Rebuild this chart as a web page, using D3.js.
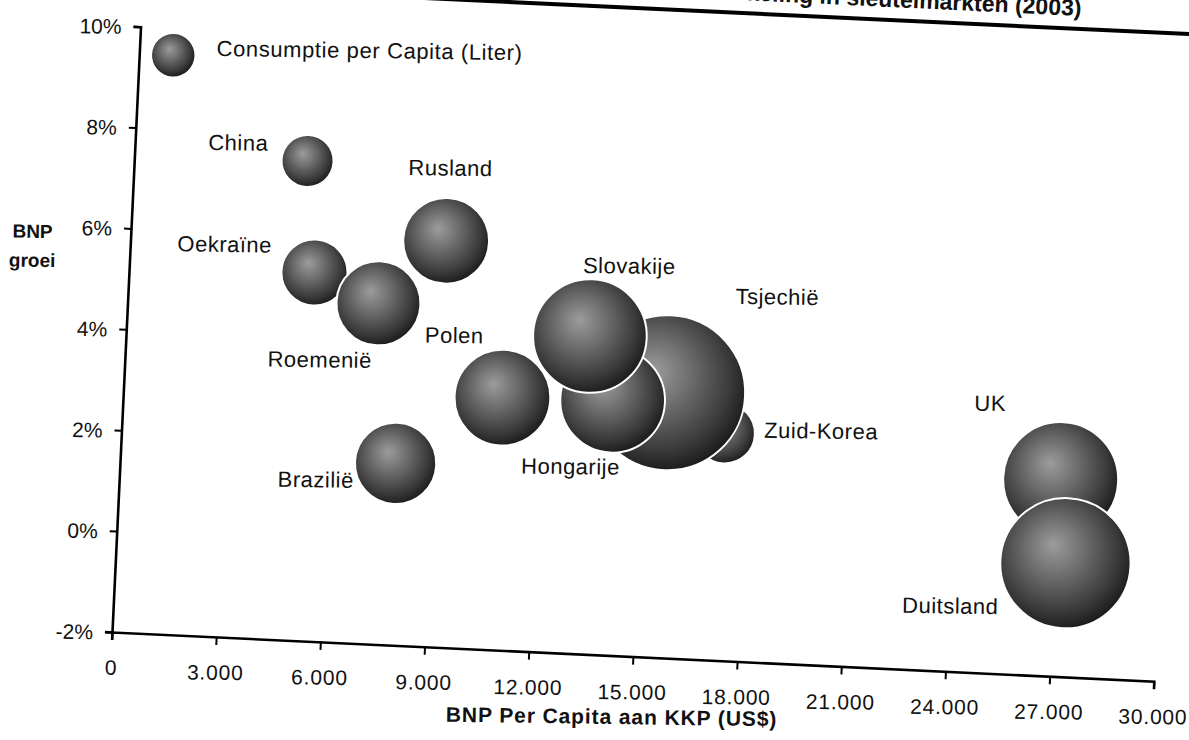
<!DOCTYPE html>
<html>
<head>
<meta charset="utf-8">
<script src="https://cdn.jsdelivr.net/npm/d3@7"></script>
<style>
  body { margin: 0; background: #fff; }
  svg { display: block; font-family: "Liberation Sans", Arial, sans-serif; }
</style>
</head>
<body>
<svg id="chart" width="1189" height="740"></svg>
<script>
// data
const countries   = ["Oekraïne", "Roemenië", "China", "Rusland", "Polen", "Brazilië",
                     "Zuid-Korea", "Tsjechië", "Hongarije", "Slovakije", "UK", "Duitsland"];
const gdpPerCapita = [5330, 7210, 4980, 9070, 10900, 7920, 17340, 15640, 14070, 13330, 27050, 27300];
const gdpGrowth    = [5.3, 4.75, 7.5, 6.05, 3.0, 1.6, 2.5, 3.25, 3.05, 4.3, 1.9, 0.25];
const consumption  = [29, 47, 18, 49, 61, 44, 24, 160, 73, 86, 88, 113];
const legendValue  = 12;

const xTicks = [0, 3000, 6000, 9000, 12000, 15000, 18000, 21000, 24000, 27000, 30000];
const yTicks = [-2, 0, 2, 4, 6, 8, 10];

const titleText  = "Bierconsumptie en economische ontwikkeling in sleutelmarkten (2003)";
const xAxisTitle = "BNP Per Capita aan KKP (US$)";
const yAxisTitle = ["BNP", "groei"];
const legendText = "Consumptie per Capita (Liter)";

// label placement (pixels, relative to bubble centre, in the tilted frame)
const labelOffset = {
  "China": [-70, -15], "Rusland": [1, -73], "Oekraïne": [-91, -24], "Roemenië": [-56, 59],
  "Polen": [-51, -60], "Brazilië": [-79, 20], "Slovakije": [36, -72], "Tsjechië": [105, -101],
  "Zuid-Korea": [96, -7], "Hongarije": [-39, 68], "UK": [-74, -73], "Duitsland": [-113, 48]
};

// the scanned page is tilted a bit clockwise; texts less so than the axes
const ox = 112, oy = 632, W = 1043, H = 606, tilt = 2.7, textTilt = 0.8;
const unTilt = textTilt - tilt;

const svg = d3.select("#chart");

const defs = svg.append("defs");
const grad = defs.append("radialGradient").attr("id", "ball")
  .attr("cx", "44%").attr("cy", "42%").attr("r", "60%")
  .attr("fx", "40%").attr("fy", "36%");
grad.append("stop").attr("offset", "0%").attr("stop-color", "#9c9c9c");
grad.append("stop").attr("offset", "40%").attr("stop-color", "#6a6a6a");
grad.append("stop").attr("offset", "78%").attr("stop-color", "#3a3a3a");
grad.append("stop").attr("offset", "100%").attr("stop-color", "#1a1a1a");

const g = svg.append("g")
  .attr("transform", "translate(" + ox + "," + oy + ") rotate(" + tilt + ")");

const x = d3.scaleLinear().domain([0, 30000]).range([0, W]);
const y = d3.scaleLinear().domain([-2, 10]).range([0, -H]);
const r = d3.scaleSqrt().domain([0, 160]).range([0, 77.5]);

const fmtX = d => d === 0 ? "0" : d3.format(",")(d).replace(/,/g, ".");

function level(sel) {
  sel.attr("transform", function() {
    const t = d3.select(this);
    return "rotate(" + unTilt + "," + (+t.attr("x") || 0) + "," + (+t.attr("y") || 0) + ")";
  });
}

// x axis
const xAxis = g.append("g").attr("class", "x-axis")
  .call(d3.axisBottom(x).tickValues(xTicks).tickFormat(fmtX).tickSize(8).tickSizeOuter(8).tickPadding(20));
// y axis
const yAxis = g.append("g").attr("class", "y-axis")
  .call(d3.axisLeft(y).tickValues(yTicks).tickFormat(d => d + "%").tickSize(7).tickSizeOuter(7).tickPadding(12));

[xAxis, yAxis].forEach(a => {
  a.select(".domain").attr("stroke", "#000").attr("stroke-width", 2.6);
  a.selectAll(".tick line").attr("stroke", "#000").attr("stroke-width", 2);
  a.selectAll(".tick text").attr("fill", "#111").attr("font-size", 21).call(level);
});
xAxis.selectAll(".tick text").attr("letter-spacing", 0.8);
yAxis.selectAll(".tick text").attr("dy", "0.36em");

// axis titles
g.append("text")
  .attr("x", 503).attr("y", 61)
  .attr("text-anchor", "middle").attr("dy", "0.35em")
  .attr("font-size", 21).attr("font-weight", "bold").attr("letter-spacing", 0.9).attr("fill", "#111")
  .text(xAxisTitle)
  .call(level);

g.append("text")
  .attr("x", -98).attr("y", -390)
  .attr("text-anchor", "middle").attr("font-size", 19).attr("font-weight", "bold").attr("fill", "#111")
  .call(level)
  .selectAll("tspan").data(yAxisTitle).enter().append("tspan")
  .attr("x", -98).attr("y", (d, i) => -390 + i * 29)
  .text(d => d);

// title, mostly cut off by the top of the page, with its rule
g.append("text")
  .attr("x", 939).attr("y", -661)
  .attr("text-anchor", "end")
  .attr("font-size", 23).attr("font-weight", "bold").attr("fill", "#111")
  .text(titleText);
g.append("line")
  .attr("x1", 0).attr("x2", 1150).attr("y1", -648).attr("y2", -648)
  .attr("stroke", "#000").attr("stroke-width", 4);

// bubbles
const rows = countries.map((c, i) => ({
  country: c, gdp: gdpPerCapita[i], growth: gdpGrowth[i], liters: consumption[i]
}));

g.append("g").selectAll("circle")
  .data(rows)
  .enter().append("circle")
  .attr("cx", d => x(d.gdp))
  .attr("cy", d => y(d.growth))
  .attr("r", d => r(d.liters))
  .attr("fill", "url(#ball)")
  .attr("stroke", "#fff")
  .attr("stroke-width", 2);

g.append("g").selectAll("text")
  .data(rows)
  .enter().append("text")
  .attr("x", d => x(d.gdp) + labelOffset[d.country][0])
  .attr("y", d => y(d.growth) + labelOffset[d.country][1])
  .attr("text-anchor", "middle").attr("dy", "0.35em")
  .attr("font-size", 22).attr("letter-spacing", 0.5).attr("fill", "#111")
  .text(d => d.country)
  .call(level);

// legend bubble
const legend = g.append("g").attr("transform", "translate(34," + (-579) + ")");
legend.append("circle").attr("r", r(legendValue)).attr("fill", "url(#ball)");
legend.append("text")
  .attr("x", 43).attr("y", -9).attr("dy", "0.35em")
  .attr("font-size", 22).attr("letter-spacing", 0.6).attr("fill", "#111")
  .text(legendText)
  .call(level);
</script>
</body>
</html>
